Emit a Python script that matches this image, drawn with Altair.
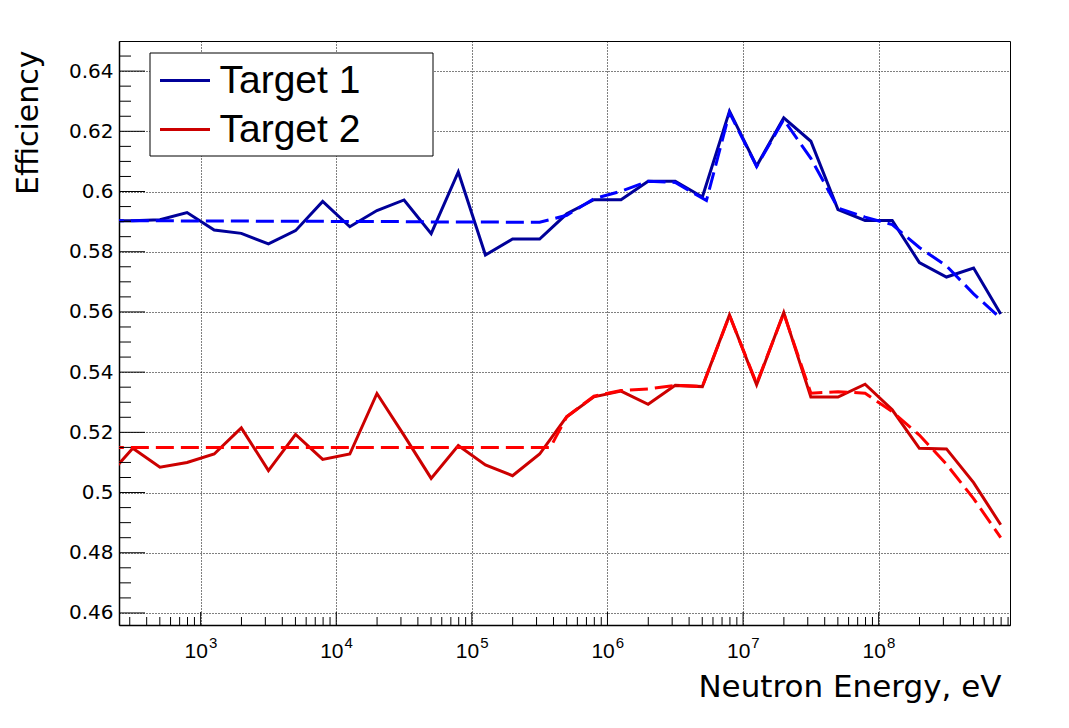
import altair as alt
import pandas as pd

# ---------------- data ----------------
energy = [200, 316, 501, 794, 1259, 1995, 3162, 5012, 7943,
          12589, 19953, 31623, 50119, 79433, 125893, 199526, 316228, 501187, 794328,
          1.259e6, 1.995e6, 3.162e6, 5.012e6, 7.943e6,
          1.259e7, 1.995e7, 3.162e7, 5.012e7, 7.943e7,
          1.259e8, 1.995e8, 3.162e8, 5.012e8, 7.943e8]

target1 = [0.5902, 0.5903, 0.5906, 0.5930, 0.5872, 0.5861, 0.5826, 0.5870, 0.5967,
           0.5883, 0.5937, 0.5972, 0.5860, 0.6065, 0.5789, 0.5842, 0.5842, 0.5926, 0.5973,
           0.5973, 0.6034, 0.6034, 0.5982, 0.6267,
           0.6085, 0.6245, 0.6167, 0.5940, 0.5904,
           0.5904, 0.5764, 0.5716, 0.5746, 0.5593]

target2 = [0.5047, 0.5147, 0.5084, 0.5100, 0.5128, 0.5215, 0.5073, 0.5193, 0.5110,
           0.5128, 0.5329, 0.5190, 0.5047, 0.5156, 0.5092, 0.5056, 0.5128, 0.5252, 0.5318,
           0.5337, 0.5293, 0.5356, 0.5352, 0.5590,
           0.5358, 0.5598, 0.5317, 0.5317, 0.5360,
           0.5275, 0.5147, 0.5145, 0.5033, 0.4893]

fit1_energy = [200, 316, 501, 794, 1259, 1995, 3162, 5012, 7943,
               12589, 19953, 31623, 50119, 79433, 125893, 199526, 316228, 501187, 794328,
               1.259e6, 1.995e6, 3.162e6, 5.37e6, 7.943e6,
               1.259e7, 1.995e7, 3.162e7, 5.012e7, 7.943e7,
               1.259e8, 1.995e8, 3.162e8, 5.012e8, 7.943e8]
fit1 = [0.5903, 0.5903, 0.5903, 0.5902, 0.5902, 0.5902, 0.5901, 0.5901, 0.5901,
        0.5900, 0.5900, 0.5900, 0.5899, 0.5899, 0.5899, 0.5898, 0.5898, 0.5921, 0.5976,
        0.6001, 0.6034, 0.6030, 0.5970, 0.6262,
        0.6083, 0.6239, 0.6110, 0.5945, 0.5915,
        0.5890, 0.5814, 0.5753, 0.5660, 0.5579]

fit2_energy = [200, 316, 501, 794, 1259, 1995, 3162, 5012, 7943,
               12589, 19953, 31623, 50119, 79433, 125893, 199526, 316228, 380189, 416869,
               501187, 794328,
               1.259e6, 1.995e6, 3.162e6, 5.012e6, 7.943e6,
               1.259e7, 1.995e7, 3.162e7, 5.012e7, 7.943e7,
               1.259e8, 1.995e8, 3.162e8, 5.012e8, 7.943e8]
fit2 = [0.5150, 0.5150, 0.5150, 0.5150, 0.5150, 0.5150, 0.5150, 0.5150, 0.5150,
        0.5150, 0.5150, 0.5150, 0.5150, 0.5150, 0.5150, 0.5150, 0.5150, 0.5150, 0.5185,
        0.5252, 0.5320,
        0.5339, 0.5344, 0.5356, 0.5352, 0.5588,
        0.5362, 0.5595, 0.5330, 0.5335, 0.5330,
        0.5269, 0.5191, 0.5094, 0.4980, 0.4850]

series_names = ["Target 1", "Target 2"]
series_colors = ["#000099", "#cc0000"]
fit_colors = ["#0000ff", "#ff0000"]

y_major = [0.46, 0.48, 0.50, 0.52, 0.54, 0.56, 0.58, 0.60, 0.62, 0.64]
y_minor = [round(0.46 + 0.005 * i, 3) for i in range(1, 38) if i % 4]
x_major = [1e3, 1e4, 1e5, 1e6, 1e7, 1e8]
x_exponents = ["3", "4", "5", "6", "7", "8"]
x_minor = [m * 10 ** e for e in range(2, 9) for m in range(2, 10) if 250 < m * 10 ** e < 9.3e8]

# ---------------- layout ----------------
W, H = 891, 584
X_DOMAIN = [250, 9.3e8]
Y_DOMAIN = [0.456, 0.65]

xs = alt.Scale(type="log", domain=X_DOMAIN, nice=False)
ys = alt.Scale(domain=Y_DOMAIN, zero=False, nice=False)

x_axis = alt.Axis(values=x_major, grid=True, gridDash=[1, 2], gridColor="black",
                  gridOpacity=1, gridWidth=1, ticks=False, labels=False,
                  domain=True, domainColor="black", domainWidth=1.5,
                  title="Neutron Energy, eV", titleFont="DejaVu Sans", titleFontSize=31,
                  titleFontWeight="normal", titleColor="black", titleAlign="right",
                  titleAnchor="end", titleX=W - 9, titleY=71, titleBaseline="alphabetic")
y_axis = alt.Axis(values=y_major, format="~g", grid=True, gridDash=[1, 2], gridColor="black",
                  gridOpacity=1, gridWidth=1, ticks=False,
                  domain=True, domainColor="black", domainWidth=1.5,
                  labelFont="DejaVu Sans", labelFontSize=20, labelColor="black", labelPadding=6,
                  title="Efficiency", titleFont="DejaVu Sans", titleFontSize=30,
                  titleFontWeight="normal", titleColor="black", titleAngle=270,
                  titleAlign="right", titleAnchor="end", titleX=-82, titleY=9,
                  titleBaseline="alphabetic")

X = alt.X("energy:Q", scale=xs, axis=x_axis)
Y = alt.Y("eff:Q", scale=ys, axis=y_axis)

solid_df = pd.concat([
    pd.DataFrame({"energy": energy, "eff": target1, "series": series_names[0]}),
    pd.DataFrame({"energy": energy, "eff": target2, "series": series_names[1]}),
])
fit1_df = pd.DataFrame({"energy": fit1_energy, "eff": fit1})
fit2_df = pd.DataFrame({"energy": fit2_energy, "eff": fit2})

solid = alt.Chart(solid_df).mark_line(strokeWidth=3, clip=True).encode(
    x=X, y=Y,
    color=alt.Color("series:N", scale=alt.Scale(domain=series_names, range=series_colors),
                    legend=alt.Legend(title=None, orient="none", legendX=39.5, legendY=13,
                                      direction="vertical", symbolType="stroke",
                                      symbolSize=2500, symbolStrokeWidth=3,
                                      labelFont="Liberation Sans", labelFontSize=39,
                                      labelColor="black", labelOffset=8, padding=0,
                                      rowPadding=2, labelLimit=400)),
    detail="series:N",
)

dash1 = alt.Chart(fit1_df).mark_line(strokeWidth=3, strokeDash=[18, 7], color=fit_colors[0],
                                     clip=True).encode(x=X, y=Y)
dash2 = alt.Chart(fit2_df).mark_line(strokeWidth=3, strokeDash=[18, 7], color=fit_colors[1],
                                     clip=True).encode(x=X, y=Y)

# inward ticks (ROOT style)
ymaj = alt.Chart(pd.DataFrame({"eff": y_major})).mark_rule(color="black", strokeWidth=1).encode(
    y=Y, x=alt.value(0), x2=alt.value(26))
ymin = alt.Chart(pd.DataFrame({"eff": y_minor})).mark_rule(color="black", strokeWidth=1).encode(
    y=Y, x=alt.value(0), x2=alt.value(12))
xmaj = alt.Chart(pd.DataFrame({"energy": x_major})).mark_rule(color="black", strokeWidth=1).encode(
    x=X, y=alt.value(H), y2=alt.value(H - 13))
xmin = alt.Chart(pd.DataFrame({"energy": x_minor})).mark_rule(color="black", strokeWidth=1).encode(
    x=X, y=alt.value(H), y2=alt.value(H - 8))

lab_df = pd.DataFrame({"energy": x_major, "base": ["10"] * len(x_major), "exp": x_exponents})
xlab = alt.Chart(lab_df).mark_text(align="right", baseline="alphabetic", dx=7.3,
                                   font="Liberation Sans", fontSize=21, color="black").encode(
    x=X, y=alt.value(H + 32.5), text="base:N")
xexp = alt.Chart(lab_df).mark_text(align="left", baseline="alphabetic", dx=8.3,
                                   font="Liberation Sans", fontSize=15, color="black").encode(
    x=X, y=alt.value(H + 22.5), text="exp:N")

box = alt.Chart(pd.DataFrame({"box": [0]})).mark_rect(fill="white", stroke="black",
                                                      strokeWidth=1).encode(
    x=alt.value(31), x2=alt.value(314), y=alt.value(12), y2=alt.value(115))

chart = alt.layer(solid, dash1, dash2, ymaj, ymin, xmaj, xmin, xlab, xexp, box).properties(
    width=W, height=H,
    padding={"left": 111, "top": 33, "right": 50, "bottom": 90},
    autosize=alt.AutoSizeParams(type="none"),
    background="white",
).configure_view(stroke="black", strokeWidth=1)

chart.save("out.html", embed_options={"renderer": "svg", "actions": False})
